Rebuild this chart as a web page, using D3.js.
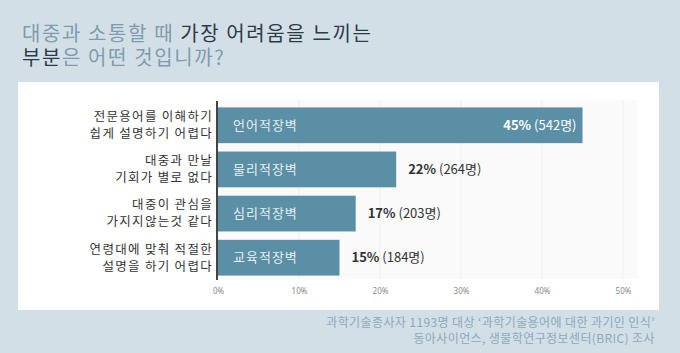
<!DOCTYPE html>
<html>
<head>
<meta charset="utf-8">
<script src="https://cdn.jsdelivr.net/npm/d3@7"></script>
<style>
  body { margin: 0; background: #d3dfe7; }
  svg { display: block; font-family: "Noto Sans CJK KR", "Noto Sans", sans-serif; }
</style>
</head>
<body>
<svg id="chart" width="680" height="353"></svg>
<script>
// data
var barriers = ["언어적장벽", "물리적장벽", "심리적장벽", "교육적장벽"];
var reasons = [
  ["전문용어를 이해하기", "쉽게 설명하기 어렵다"],
  ["대중과 만날", "기회가 별로 없다"],
  ["대중이 관심을", "가지지않는것 같다"],
  ["연령대에 맞춰 적절한", "설명을 하기 어렵다"]
];
var percents = [45, 22, 17, 15];
var counts = [542, 264, 203, 184];
var tickValues = [0, 10, 20, 30, 40, 50];

var svg = d3.select("#chart");

// white panel
svg.append("rect")
    .attr("x", 18).attr("y", 82)
    .attr("width", 641).attr("height", 228)
    .attr("fill", "#ffffff");

// title
var title = svg.append("text").attr("x", 22).attr("font-size", 20).attr("letter-spacing", 1.6);
var t1 = title.append("tspan").attr("x", 22).attr("y", 41);
t1.append("tspan").attr("fill", "#7f9cac").text("대중과 소통할 때 ");
t1.append("tspan").attr("fill", "#2d3b48").text("가장 어려움을 느끼는");
var t2 = title.append("tspan").attr("x", 22).attr("y", 65);
t2.append("tspan").attr("fill", "#2d3b48").text("부분");
t2.append("tspan").attr("fill", "#7f9cac").text("은 어떤 것입니까?");

var margin = {left: 218, top: 103},
    plotW = 405,
    plotH = 177;

var x = d3.scaleLinear().domain([0, 50]).range([0, plotW]);
var y = d3.scaleBand().domain(d3.range(barriers.length)).range([0, plotH]).paddingInner(0.19).paddingOuter(0.1);

var g = svg.append("g").attr("transform", "translate(" + margin.left + "," + margin.top + ")");

// faint plot background + grid
g.append("rect")
    .attr("x", 0).attr("y", -3)
    .attr("width", plotW + 14).attr("height", plotH + 2)
    .attr("fill", "#fafafa");

g.selectAll(".grid")
    .data(tickValues.slice(1))
  .enter().append("line")
    .attr("class", "grid")
    .attr("x1", function(d) { return x(d); })
    .attr("x2", function(d) { return x(d); })
    .attr("y1", -3).attr("y2", plotH - 1)
    .attr("stroke", "#efefef");

// bars
g.selectAll(".bar")
    .data(percents)
  .enter().append("rect")
    .attr("class", "bar")
    .attr("x", 0)
    .attr("y", function(d, i) { return y(i); })
    .attr("width", function(d) { return x(d); })
    .attr("height", y.bandwidth())
    .attr("fill", "#5b8fa5");

// barrier names inside bars
g.selectAll(".inner")
    .data(barriers)
  .enter().append("text")
    .attr("x", 15)
    .attr("y", function(d, i) { return y(i) + y.bandwidth() / 2; })
    .attr("dy", "0.35em")
    .attr("font-size", 13)
    .attr("letter-spacing", 1)
    .attr("fill", "#e6eff3")
    .text(function(d) { return d; });

// value labels
var vals = g.selectAll(".val")
    .data(percents)
  .enter().append("text")
    .attr("class", "val")
    .attr("x", function(d, i) { return i == 0 ? x(d) - 6 : x(d) + 12; })
    .attr("y", function(d, i) { return y(i) + y.bandwidth() / 2; })
    .attr("dy", "0.35em")
    .attr("text-anchor", function(d, i) { return i == 0 ? "end" : "start"; })
    .attr("font-size", 13)
    .attr("fill", function(d, i) { return i == 0 ? "#ffffff" : "#333333"; });
vals.append("tspan").attr("font-weight", "bold").text(function(d) { return d + "% "; });
vals.append("tspan").text(function(d, i) { return "(" + counts[i] + "명)"; });

// category labels (two lines)
g.selectAll(".cat")
    .data(reasons)
  .enter().append("text")
    .attr("class", "cat")
    .attr("text-anchor", "end")
    .attr("font-size", 12.5)
    .attr("letter-spacing", 1.3)
    .attr("fill", "#333333")
    .each(function(d, i) {
      var cy = y(i) + y.bandwidth() / 2;
      d3.select(this).selectAll("tspan")
        .data(d)
        .enter().append("tspan")
          .attr("x", -5)
          .attr("y", function(s, j) { return cy + (j == 0 ? -8.5 : 8.5); })
          .attr("dy", "0.35em")
          .text(function(s) { return s; });
    });

// x axis labels
var xAxis = g.append("g")
    .attr("transform", "translate(0," + (plotH + 2) + ")")
    .call(d3.axisBottom(x).tickValues(tickValues).tickSize(0).tickPadding(6).tickFormat(function(d) { return d + "%"; }));
xAxis.select(".domain").remove();
xAxis.selectAll("text").attr("font-size", 8).attr("fill", "#888888").attr("font-family", "Noto Sans, sans-serif");

// left axis line
g.append("line")
    .attr("x1", -1).attr("x2", -1)
    .attr("y1", -2).attr("y2", plotH)
    .attr("stroke", "#444444")
    .attr("stroke-width", 2);

// footer
var foot = svg.append("text").attr("text-anchor", "end").attr("font-size", 12).attr("letter-spacing", 0.4).attr("fill", "#8aaabb");
foot.append("tspan").attr("x", 655).attr("y", 327).text("과학기술종사자 1193명 대상 ‘과학기술용어에 대한 과기인 인식’");
foot.append("tspan").attr("x", 655).attr("y", 343).text("동아사이언스, 생물학연구정보센터(BRIC) 조사");
</script>
</body>
</html>
